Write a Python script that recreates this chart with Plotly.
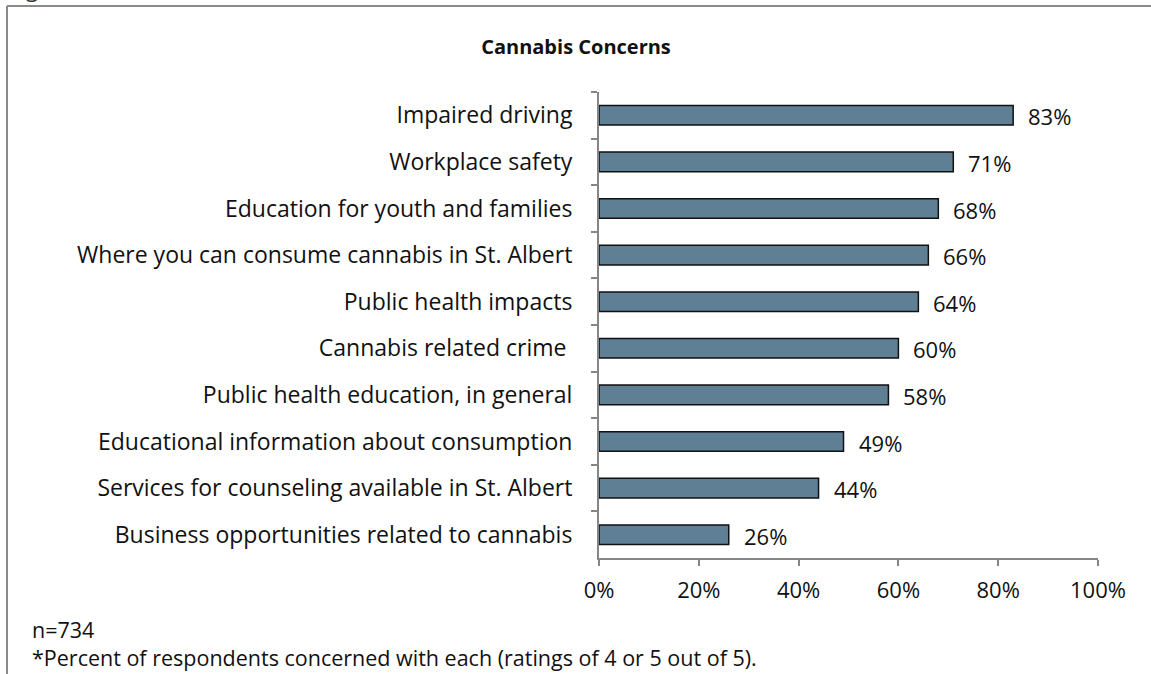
import plotly.graph_objects as go

# Survey concerns and share of respondents rating each 4 or 5 out of 5
concerns = [
    "Impaired driving",
    "Workplace safety",
    "Education for youth and families",
    "Where you can consume cannabis in St. Albert",
    "Public health impacts",
    "Cannabis related crime\u00a0",
    "Public health education, in general",
    "Educational information about consumption",
    "Services for counseling available in St. Albert",
    "Business opportunities related to cannabis",
]
percents = [83, 71, 68, 66, 64, 60, 58, 49, 44, 26]
x_ticks = [0, 20, 40, 60, 80, 100]
x_tick_labels = ["0%", "20%", "40%", "60%", "80%", "100%"]

W, H = 1151, 674
L, R, T, B = 599, 53, 92, 116
FONT = "Open Sans"
INK = "#111111"
AXIS = "#868686"
LABEL_SIZE = 23

fig = go.Figure(
    go.Bar(
        x=percents,
        y=concerns,
        orientation="h",
        width=0.42,
        marker=dict(color="#5F7F94", line=dict(color="#111111", width=1.5)),
        hoverinfo="skip",
    )
)

# value labels to the right of each bar
for c, p in zip(concerns, percents):
    fig.add_annotation(
        x=p, y=c, text=f"{p}%", showarrow=False,
        xanchor="left", xshift=13, yshift=-1,
        font=dict(family=FONT, size=LABEL_SIZE - 1, color=INK),
    )

pw = W - L - R
ph = H - T - B


def px_x(x):
    return (x - L) / pw


def px_y(y):
    return 1 - (y - T) / ph


# outer frame (top and left edges)
fig.add_shape(type="line", xref="paper", yref="paper",
              x0=px_x(7), x1=px_x(W + 5), y0=px_y(6), y1=px_y(6),
              line=dict(color="#8a8a8a", width=2))
fig.add_shape(type="line", xref="paper", yref="paper",
              x0=px_x(7), x1=px_x(7), y0=px_y(6), y1=px_y(H + 5),
              line=dict(color="#8a8a8a", width=2))

# tail of a letter from the text line above the frame
fig.add_annotation(xref="paper", yref="paper", x=px_x(24), y=px_y(5),
                   text="g", showarrow=False, xanchor="left", yanchor="bottom",
                   font=dict(family=FONT, size=22, color="#333333"))

# footnotes
fig.add_annotation(xref="paper", yref="paper", x=px_x(30), y=px_y(629),
                   text="n=734", showarrow=False, xanchor="left", yanchor="middle",
                   font=dict(family=FONT, size=21.5, color=INK))
fig.add_annotation(xref="paper", yref="paper", x=px_x(30), y=px_y(657),
                   text="*Percent of respondents concerned with each (ratings of 4 or 5 out of 5).",
                   showarrow=False, xanchor="left", yanchor="middle",
                   font=dict(family=FONT, size=21.5, color=INK))

fig.update_layout(
    width=W, height=H,
    margin=dict(l=L, r=R, t=T, b=B),
    paper_bgcolor="white", plot_bgcolor="white",
    showlegend=False,
    title=dict(text="<b>Cannabis Concerns</b>", x=576 / W, xanchor="center",
               y=1 - 47 / H, yanchor="middle",
               font=dict(family=FONT, size=20, color=INK)),
    font=dict(family=FONT, size=LABEL_SIZE, color=INK),
)
fig.update_xaxes(
    range=[0, 100], tickvals=x_ticks, ticktext=x_tick_labels,
    showgrid=False, zeroline=False,
    showline=True, linecolor=AXIS, linewidth=2,
    ticks="outside", ticklen=6, tickwidth=2, tickcolor=AXIS,
    ticklabelstandoff=6,
    tickfont=dict(family=FONT, size=LABEL_SIZE - 1, color=INK),
)
fig.update_yaxes(
    type="category", categoryorder="array", categoryarray=concerns,
    autorange="reversed", tickson="boundaries",
    showgrid=False, showline=True, linecolor=AXIS, linewidth=2,
    ticks="outside", ticklen=6, tickwidth=2, tickcolor=AXIS,
    ticklabelstandoff=20,
    tickfont=dict(family=FONT, size=LABEL_SIZE, color=INK),
)

fig.write_html("out.html")
